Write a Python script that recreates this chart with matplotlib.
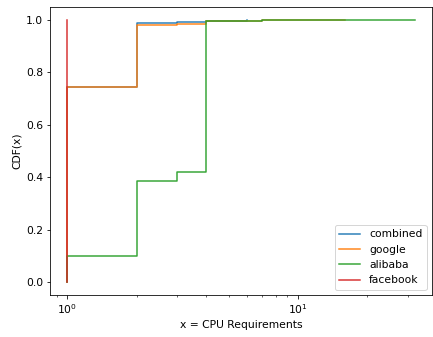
import numpy as np
import matplotlib
matplotlib.use('Agg')
import matplotlib.pyplot as plt

# CDF of CPU requirements (step points)
combined_x = [1, 1, 2, 3, 4, 6]
combined_y = [0.0, 0.744, 0.988, 0.991, 0.997, 1.0]

google_x = [1, 1, 2, 3, 4, 7, 16]
google_y = [0.0, 0.744, 0.983, 0.986, 0.997, 0.999, 1.0]

alibaba_x = [1, 1, 2, 3, 4, 7, 32]
alibaba_y = [0.0, 0.099, 0.385, 0.42, 0.995, 0.999, 1.0]

facebook_x = [1, 1]
facebook_y = [0.0, 1.0]

series = [('combined', combined_x, combined_y),
          ('google',   google_x,   google_y),
          ('alibaba',  alibaba_x,  alibaba_y),
          ('facebook', facebook_x, facebook_y)]

plt.rcParams['font.size'] = 10.7

fig = plt.figure(figsize=(433 / 72, 337 / 72), dpi=72)
ax  = fig.add_axes([0.1155, 0.1246, 0.882, 0.8546])

for name, xs, ys in series:
    ax.plot(xs, ys, drawstyle='steps-post', linewidth=1.5, alpha=0.95, label=name)

ax.set_xscale('log')
ax.set_xlabel('x = CPU Requirements')
ax.set_ylabel('CDF(x)')
ax.legend(loc='lower right')

fig.savefig('out.png', dpi=72)
